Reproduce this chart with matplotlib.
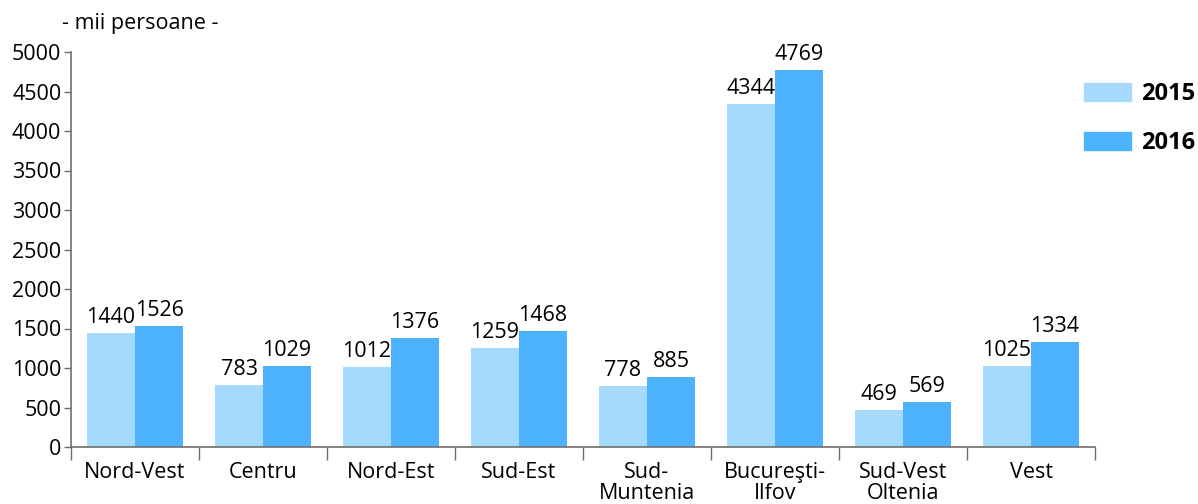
import numpy as np
import matplotlib
matplotlib.use("Agg")
import matplotlib.pyplot as plt
from matplotlib.patches import Patch

regions = ["Nord-Vest", "Centru", "Nord-Est", "Sud-Est", "Sud-\nMuntenia",
           "Bucureşti-\nIlfov", "Sud-Vest\nOltenia", "Vest"]
years = ["2015", "2016"]
vals_2015 = [1440, 783, 1012, 1259, 778, 4344, 469, 1025]
vals_2016 = [1526, 1029, 1376, 1468, 885, 4769, 569, 1334]

C_2015 = "#a6dafc"
C_2016 = "#4bb2fb"
AXIS_C = "#6e6e6e"

plt.rcParams["font.family"] = ["Open Sans", "DejaVu Sans"]

fig = plt.figure(figsize=(11.98, 5.04), dpi=100)
ax = fig.add_axes([71 / 1198, 57 / 504, 1024 / 1198, 395 / 504])

x = np.arange(len(regions))
w = 0.375
ax.bar(x - w / 2, vals_2015, width=w, color=C_2015, zorder=2)
ax.bar(x + w / 2, vals_2016, width=w, color=C_2016, zorder=2)

# value labels: baseline about 10 px above each bar
for xs, vals in [(x - w / 2, vals_2015), (x + w / 2, vals_2016)]:
    for xi, v in zip(xs, vals):
        ax.annotate(str(v), (xi, v), xytext=(0, 7.2), textcoords="offset points",
                    ha="center", va="baseline", fontsize=15.5)

ax.set_xlim(-0.5, len(regions) - 0.5)
ax.set_ylim(0, 5000)
ax.set_yticks(np.arange(0, 5001, 500))
ax.tick_params(axis="y", length=5, width=1, color=AXIS_C, labelsize=15.5, pad=2)

# category boundary ticks on x, labels centred between them
ax.set_xticks(np.arange(-0.5, len(regions), 1.0))
ax.set_xticklabels([])
ax.set_xticks(x, minor=True)
ax.set_xticklabels(regions, minor=True, fontsize=15.5, linespacing=1.0)
ax.tick_params(axis="x", which="major", length=9, width=1, color=AXIS_C, direction="out")
ax.tick_params(axis="x", which="minor", length=0, pad=11)

for s in ["top", "right"]:
    ax.spines[s].set_visible(False)
for s in ["left", "bottom"]:
    ax.spines[s].set_color(AXIS_C)
    ax.spines[s].set_linewidth(1.2)

fig.text(62 / 1198, 1 - 24 / 504, "- mii persoane -", ha="left", va="center", fontsize=15.5)

handles = [Patch(color=C_2015, label=years[0]), Patch(color=C_2016, label=years[1])]
fig.legend(handles=handles, loc="upper right", bbox_to_anchor=(1.0, 1 - 80 / 504),
           frameon=False, prop={"weight": "bold", "size": 17},
           handlelength=2.0, handleheight=0.75, handletextpad=0.45,
           labelspacing=1.05, borderaxespad=0, borderpad=0.1)

fig.savefig("out.png", dpi=100)
